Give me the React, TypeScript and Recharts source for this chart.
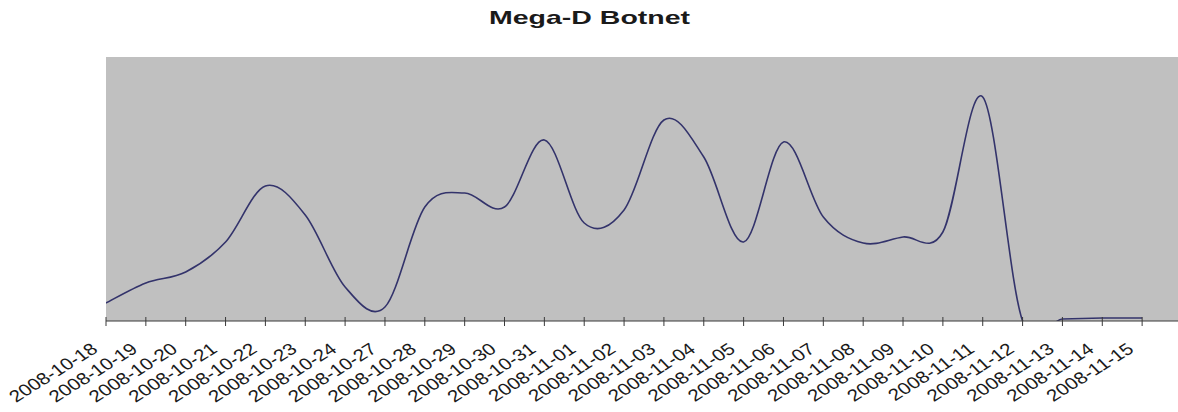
import { LineChart, Line, XAxis, YAxis, CartesianGrid } from "recharts";

// dates shown on the category axis
const dates = [
  "2008-10-18", "2008-10-19", "2008-10-20", "2008-10-21", "2008-10-22", "2008-10-23",
  "2008-10-24", "2008-10-27", "2008-10-28", "2008-10-29", "2008-10-30", "2008-10-31",
  "2008-11-01", "2008-11-02", "2008-11-03", "2008-11-04", "2008-11-05", "2008-11-06",
  "2008-11-07", "2008-11-08", "2008-11-09", "2008-11-10", "2008-11-11", "2008-11-12",
  "2008-11-13", "2008-11-14", "2008-11-15",
];

// botnet activity (no scale in the original, read as relative height)
const activity = [
  18, 38, 49, 79, 135, 106, 34, 14, 114, 128, 114, 181, 98, 111, 201, 164, 79, 179,
  104, 78, 84, 89, 224, 0, 2, 3, 3,
];

const tickIdx = dates.map((_, i) => i);

const chartData = dates.map((d, i) => ({ i, date: d, value: activity[i] }));

// Excel style smoothed line (Catmull-Rom through every point)
function excelSmooth(context: any) {
  let pts: number[][] = [];
  return {
    areaStart() {},
    areaEnd() {},
    lineStart() {
      pts = [];
    },
    lineEnd() {
      const n = pts.length;
      if (!n) return;
      context.moveTo(pts[0][0], pts[0][1]);
      for (let k = 0; k < n - 1; k++) {
        const p0 = pts[Math.max(k - 1, 0)];
        const p1 = pts[k];
        const p2 = pts[k + 1];
        const p3 = pts[Math.min(k + 2, n - 1)];
        context.bezierCurveTo(
          p1[0] + (p2[0] - p0[0]) / 6,
          p1[1] + (p2[1] - p0[1]) / 6,
          p2[0] - (p3[0] - p1[0]) / 6,
          p2[1] - (p3[1] - p1[1]) / 6,
          p2[0],
          p2[1]
        );
      }
    },
    point(x: number, y: number) {
      pts.push([+x, +y]);
    },
  };
}

const DateTick = (props: any) => {
  const { x, y, payload } = props;
  return (
    <g>
      <line x1={x} y1={y - 4} x2={x} y2={y + 5} stroke="#3a3a3a" />
      <text
        transform={`translate(${x - 7},${y + 30}) scale(1.25,1) rotate(-38)`}
        textAnchor="end"
        fontSize={16.5}
        fontFamily="Liberation Sans, Arial, sans-serif"
        fill="#1a1a1a"
      >
        {dates[payload.value]}
      </text>
    </g>
  );
};

export default function App() {
  return (
    <div style={{ position: "absolute", left: 0, top: 0, width: 1178, height: 412, background: "#fff" }}>
      <div
        style={{
          position: "absolute",
          left: 0,
          top: 7,
          width: 1178,
          textAlign: "center",
          fontFamily: "Liberation Sans, Arial, sans-serif",
          fontWeight: "bold",
          fontSize: 19,
          color: "#1a1a1a",
          transform: "scaleX(1.5)",
          transformOrigin: "588px 0",
        }}
      >
        Mega-D Botnet
      </div>
      <LineChart
        width={1178}
        height={412}
        data={chartData}
        margin={{ top: 57, right: 0, bottom: 0, left: 106 }}
      >
        <CartesianGrid fill="#c0c0c0" fillOpacity={1} horizontal={false} vertical={false} />
        <XAxis
          dataKey="i"
          type="number"
          domain={[0, 26.9]}
          ticks={tickIdx}
          interval={0}
          height={91}
          tickSize={0}
          tickMargin={0}
          tickLine={false}
          axisLine={{ stroke: "#3a3a3a" }}
          tick={<DateTick />}
          allowDataOverflow
        />
        <YAxis hide domain={[0, 264]} allowDataOverflow />
        <Line
          type={excelSmooth as any}
          dataKey="value"
          stroke="#33336b"
          strokeWidth={1.6}
          dot={false}
          isAnimationActive={false}
        />
      </LineChart>
    </div>
  );
}
